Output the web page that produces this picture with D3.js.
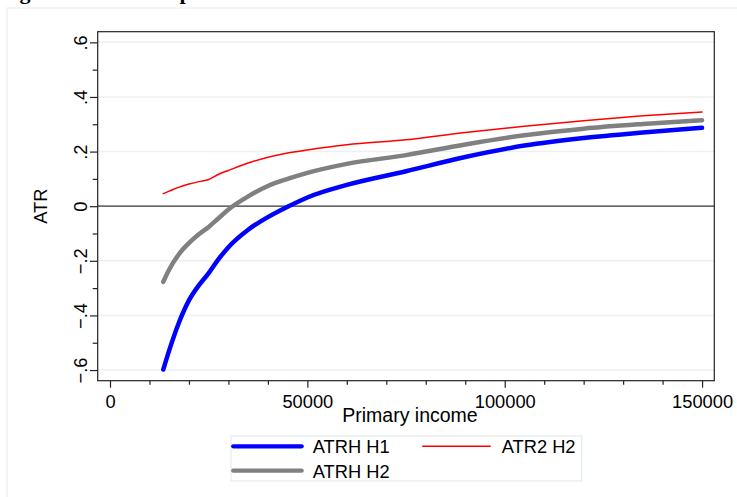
<!DOCTYPE html>
<html>
<head>
<meta charset="utf-8">
<script src="https://cdn.jsdelivr.net/npm/d3@7"></script>
<style>
  body { margin: 0; background: #fff; }
  svg { display: block; font-family: "Liberation Sans", Arial, sans-serif; }
</style>
</head>
<body>
<div class="chart"></div>
<script>
// data
var income = [13500, 15000, 17500, 20000, 22500, 25000, 27500, 30000, 35000, 40000,
  45000, 50000, 60000, 75000, 90000, 105000, 120000, 135000, 150000];
var atrhH1 = [-0.598, -0.528, -0.425, -0.345, -0.29, -0.245, -0.194, -0.15, -0.086, -0.04,
  -0.002, 0.032, 0.078, 0.128, 0.18, 0.222, 0.25, 0.27, 0.287];
var atrhH2 = [-0.277, -0.232, -0.175, -0.135, -0.103, -0.076, -0.044, -0.012, 0.036, 0.074,
  0.100, 0.122, 0.155, 0.187, 0.226, 0.26, 0.284, 0.301, 0.315];
var atr2H2 = [0.046, 0.055, 0.070, 0.081, 0.090, 0.098, 0.117, 0.131, 0.158, 0.179,
  0.195, 0.206, 0.225, 0.243, 0.27, 0.293, 0.313, 0.331, 0.345];
var yTicks = [-0.6, -0.4, -0.2, 0, 0.2, 0.4, 0.6];
var yMinor = [-0.5, -0.3, -0.1, 0.1, 0.3, 0.5];
var xTicks = [0, 50000, 100000, 150000];
var xMinor = [10000, 20000, 30000, 40000, 60000, 70000, 80000, 90000, 110000, 120000, 130000, 140000];

var series = [
  { name: "ATRH H1", values: atrhH1, color: "#0000ff", width: 4.5 },
  { name: "ATRH H2", values: atrhH2, color: "#808080", width: 4.5 },
  { name: "ATR2 H2", values: atr2H2, color: "#ff0000", width: 1.5 }
];

var W = 737, H = 497;
var plot = { left: 97.7, right: 714.3, top: 31.7, bottom: 380.7 };
var fontSize = "18.3px";

var xScale = d3.scaleLinear().domain([-3116, 153100]).range([plot.left, plot.right]);
var yScale = d3.scaleLinear().domain([-0.639, 0.639]).range([plot.bottom, plot.top]);

var svg = d3.select(".chart").append("svg")
  .attr("width", W)
  .attr("height", H);

// outer graph region
svg.append("rect")
  .attr("x", 7).attr("y", 8)
  .attr("width", 760).attr("height", 520)
  .attr("fill", "#fff")
  .attr("stroke", "#e6eeee")
  .attr("stroke-width", 1.2);

// title, cut off at the top as in the picture
svg.append("text")
  .attr("x", 0).attr("y", -1.5)
  .style("font", "bold 22px 'Liberation Serif', serif")
  .text("Figure 1: ATR comparison");

// gridlines
svg.append("g").selectAll("line")
  .data(yTicks.filter(function (d) { return d !== 0; }))
  .enter().append("line")
  .attr("x1", plot.left).attr("x2", plot.right)
  .attr("y1", function (d) { return yScale(d); })
  .attr("y2", function (d) { return yScale(d); })
  .attr("stroke", "#eaf1f1")
  .attr("stroke-width", 1.5);

// zero line
svg.append("line")
  .attr("x1", plot.left).attr("x2", plot.right)
  .attr("y1", yScale(0)).attr("y2", yScale(0))
  .attr("stroke", "#333")
  .attr("stroke-width", 1.2);

// series
var line = d3.line()
  .x(function (d, i) { return xScale(income[i]); })
  .y(function (d) { return yScale(d); })
  .curve(d3.curveMonotoneX);

svg.append("g").selectAll("path")
  .data(series)
  .enter().append("path")
  .attr("d", function (d) { return line(d.values); })
  .attr("fill", "none")
  .attr("stroke", function (d) { return d.color; })
  .attr("stroke-width", function (d) { return d.width; })
  .attr("stroke-linecap", "round")
  .attr("stroke-linejoin", "round");

// frame
svg.append("rect")
  .attr("x", plot.left).attr("y", plot.top)
  .attr("width", plot.right - plot.left)
  .attr("height", plot.bottom - plot.top)
  .attr("fill", "none")
  .attr("stroke", "#222")
  .attr("stroke-width", 1.2);

// y axis
var fmt = function (d) {
  if (d === 0) return "0";
  return d3.format(".1f")(d).replace("0.", ".");
};
var yAxis = svg.append("g")
  .attr("transform", "translate(" + plot.left + ",0)")
  .call(d3.axisLeft(yScale).tickValues(yTicks).tickSize(7.7).tickFormat(fmt));
yAxis.select(".domain").remove();
yAxis.selectAll(".tick line").attr("stroke", "#222").attr("stroke-width", 1.2);
yAxis.selectAll(".tick text")
  .attr("transform", "rotate(-90)")
  .attr("x", 0).attr("y", -10.4).attr("dy", 0)
  .attr("text-anchor", "middle")
  .attr("fill", "#000")
  .style("font-size", fontSize);
svg.append("g")
  .attr("transform", "translate(" + plot.left + ",0)")
  .call(d3.axisLeft(yScale).tickValues(yMinor).tickSize(5).tickFormat(""))
  .call(function (g) { g.select(".domain").remove(); g.selectAll("line").attr("stroke", "#222").attr("stroke-width", 1.2); });

// x axis
var xAxis = svg.append("g")
  .attr("transform", "translate(0," + plot.bottom + ")")
  .call(d3.axisBottom(xScale).tickValues(xTicks).tickSize(7).tickFormat(d3.format("d")));
xAxis.select(".domain").remove();
xAxis.selectAll(".tick line").attr("stroke", "#222").attr("stroke-width", 1.2);
xAxis.selectAll(".tick text")
  .attr("y", 27).attr("dy", 0)
  .attr("fill", "#000")
  .style("font-size", fontSize);
svg.append("g")
  .attr("transform", "translate(0," + plot.bottom + ")")
  .call(d3.axisBottom(xScale).tickValues(xMinor).tickSize(4).tickFormat(""))
  .call(function (g) { g.select(".domain").remove(); g.selectAll("line").attr("stroke", "#222").attr("stroke-width", 1.2); });

// axis titles
svg.append("text")
  .attr("transform", "translate(47," + ((plot.top + plot.bottom) / 2) + ") rotate(-90)")
  .attr("text-anchor", "middle")
  .style("font-size", fontSize)
  .text("ATR");
svg.append("text")
  .attr("x", 410).attr("y", 422)
  .attr("text-anchor", "middle")
  .style("font-size", "19.5px")
  .text("Primary income");

// legend
var legend = svg.append("g");
legend.append("rect")
  .attr("x", 231).attr("y", 436)
  .attr("width", 350.7).attr("height", 45)
  .attr("fill", "#fff")
  .attr("stroke", "#e3eded")
  .attr("stroke-width", 1.2);
var legendPos = [
  { x: 231.7, y: 446.3 },
  { x: 231.7, y: 470.7 },
  { x: 420.7, y: 446.3 }
];
var item = legend.selectAll(".item")
  .data(series)
  .enter().append("g")
  .attr("class", "item")
  .attr("transform", function (d, i) { return "translate(" + legendPos[i].x + "," + legendPos[i].y + ")"; });
item.append("line")
  .attr("x1", 1.5).attr("x2", 70)
  .attr("stroke", function (d) { return d.color; })
  .attr("stroke-width", function (d) { return d.width === 1.5 ? 1.5 : 4.2; })
  .attr("stroke-linecap", function (d) { return d.width === 1.5 ? "butt" : "round"; });
item.append("text")
  .attr("x", 81).attr("y", 7)
  .style("font-size", fontSize)
  .text(function (d) { return d.name; });
</script>
</body>
</html>
